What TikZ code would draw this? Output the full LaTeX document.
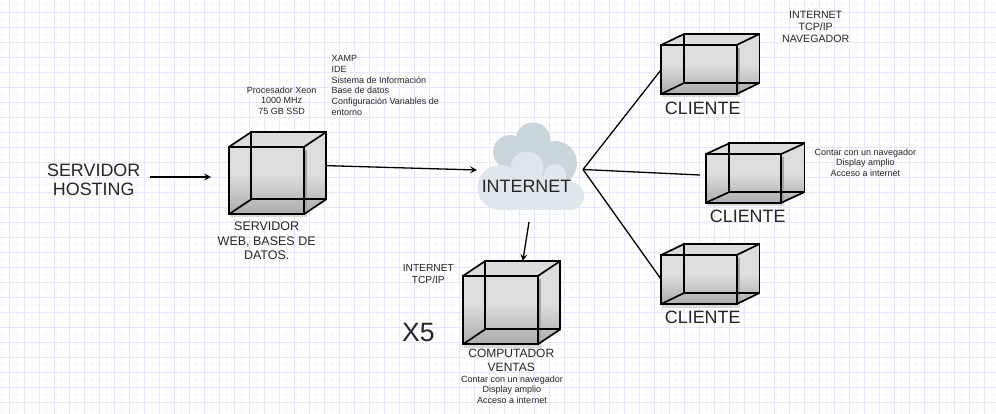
\documentclass[tikz,border=0pt]{standalone}
\usepackage{fontspec}
\setmainfont{Liberation Sans}
\usetikzlibrary{arrows.meta}
\definecolor{gridmajor}{HTML}{E6E6FF}
\definecolor{gridminor}{HTML}{F7F7FF}
\definecolor{cloudback}{HTML}{CAD6DC}
\definecolor{cloudfront}{HTML}{DFE6EC}
\definecolor{inktext}{HTML}{262626}
\definecolor{cubetop}{HTML}{DCDCDC}
\definecolor{cubemid}{HTML}{DEDEDE}
\definecolor{cubebot}{HTML}{ACACAC}
\definecolor{shadowlight}{HTML}{DADADA}
\definecolor{shadowdark}{HTML}{A4A4A4}
\tikzset{
  cubeline/.style={draw=black,line width=1.7pt,line join=miter},
  cubeface/.style={cubeline,rectangle,inner sep=0pt,outer sep=0pt,anchor=north west},
  conn/.style={draw=black,line width=1.3pt},
  arrowconn/.style={conn,-{Stealth[length=7pt,width=7pt,inset=3pt]}},
  smalltext/.style={text=inktext,align=center,inner sep=0pt,font=\fontsize{9}{10.7}\selectfont},
  toptext/.style={text=inktext,align=center,inner sep=0pt,font=\fontsize{10.6}{11.9}\selectfont},
  midtext/.style={text=inktext,align=center,inner sep=0pt,font=\fontsize{12.5}{14.5}\selectfont},
  bigtext/.style={text=inktext,align=center,inner sep=0pt,font=\fontsize{17.9}{19}\selectfont},
}
% #1 name, #2 #3 front top-left, #4 #5 front size, #6 #7 depth
\newcommand{\drawboxcube}[7]{
  \fill[shadowlight] (#2+1,#3+#5) rectangle (#2+#4+3,#3+#5+3.5);
  \shade[top color=cubetop,bottom color=cubebot,middle color=cubemid]
    (#2,#3) -- (#2+#6,#3-#7) -- (#2+#6+#4,#3-#7) -- (#2+#6+#4,#3-#7+#5)
    -- (#2+#4,#3+#5) -- (#2,#3+#5) -- cycle;
  \fill[shadowdark] (#2+#4,#3+3) rectangle (#2+#4+3,#3+#5);
  \node[cubeface,minimum width=#4pt,minimum height=#5pt] (#1back) at (#2+#6,#3-#7) {};
  \draw[cubeline] (#2,#3) -- (#2+#6,#3-#7) (#2+#4,#3) -- (#2+#4+#6,#3-#7)
    (#2,#3+#5) -- (#2+#6,#3+#5-#7) (#2+#4,#3+#5) -- (#2+#4+#6,#3+#5-#7);
  \node[cubeface,minimum width=#4pt,minimum height=#5pt] (#1) at (#2,#3) {};
}
\begin{document}
\begin{tikzpicture}[x=1pt,y=-1pt]
\useasboundingbox (0,0) rectangle (996,414);
\fill[white] (0,0) rectangle (996,414);
% grid
\foreach \k in {0,...,66} {\draw[gridminor,line width=1pt] ({1.8+15*\k},0) -- ({1.8+15*\k},414);}
\foreach \k in {0,...,28} {\draw[gridminor,line width=1pt] (0,{4.8+15*\k}) -- (996,{4.8+15*\k});}
\foreach \k in {0,...,66} {\draw[gridmajor,line width=1pt] ({9.3+15*\k},0) -- ({9.3+15*\k},414);}
\foreach \k in {0,...,27} {\draw[gridmajor,line width=1pt] (0,{12.3+15*\k}) -- (996,{12.3+15*\k});}
% cloud
\fill[cloudback] (533,140) circle (17.5);
\fill[cloudback] (510,152) circle (17);
\fill[cloudback] (555,163) circle (22);
\fill[cloudback] (510,150) rectangle (560,185);
\fill[cloudfront] (527,168) circle (16.5);
\fill[cloudfront] (555,175) circle (11);
\fill[cloudfront] (500,187.5) circle (22.5);
\fill[cloudfront] (570,196) circle (14);
\fill[cloudfront] (500,176) rectangle (566,210);
\fill[cloudfront] (566,182) rectangle (570,210);
\node[bigtext] (cloud) at (526.5,186.5) {INTERNET};
% cubes
\drawboxcube{server}{229.3}{146.7}{75}{67.3}{22}{14.7}
\drawboxcube{comp}{463.3}{275.7}{75}{68.3}{22}{14.7}
\drawboxcube{clientA}{661.3}{45}{75.4}{49}{22.7}{11}
\drawboxcube{clientB}{706}{154}{75.3}{48.7}{23.3}{10.7}
\drawboxcube{clientC}{661.3}{255}{75.4}{49}{22.7}{11}
% texts
\node[bigtext] (hosting) at (93.7,179.5) {SERVIDOR\\HOSTING};
\node[midtext] (serverlabel) at (266.7,241) {SERVIDOR\\WEB, BASES DE\\DATOS.};
\node[smalltext] (procesador) at (281.7,100.5) {Procesador Xeon\\1000 MHz\\75 GB SSD};
\node[smalltext,align=left,anchor=west] (xamp) at (331.3,85.5) {XAMP\\IDE\\Sistema de Información\\Base de datos\\Configuración Variables de\\entorno};
\node[toptext,font=\fontsize{10.2}{11.4}\selectfont] (tcpA) at (428.3,274) {INTERNET\\TCP/IP};
\node[bigtext,font=\fontsize{26.5}{28}\selectfont] (xfive) at (418.3,332.5) {X5};
\node[midtext,font=\fontsize{12}{14.5}\selectfont] (complabel) at (511.3,360.5) {COMPUTADOR\\VENTAS};
\node[smalltext] (compnote) at (512,389.5) {Contar con un navegador\\Display amplio\\Acceso a internet};
\node[bigtext] (labelA) at (702.7,108) {CLIENTE};
\node[bigtext] (labelB) at (747.7,216.7) {CLIENTE};
\node[bigtext] (labelC) at (702.7,317.7) {CLIENTE};
\node[toptext] (topnote) at (815.7,27) {INTERNET\\TCP/IP\\NAVEGADOR};
\node[smalltext] (clientnote) at (865.3,162.5) {Contar con un navegador\\Display amplio\\Acceso a internet};
% connectors
\coordinate (hub) at (583,169.5);
\coordinate (hostingtip) at (211,177);
\coordinate (hostingstart) at (150,177);
\coordinate (cloudin) at (477,170);
\coordinate (cloudout) at (529,222);
\coordinate (clientBend) at (700,175);
\draw[arrowconn] (hostingstart) -- (hostingtip);
\draw[arrowconn] (serverback.east) -- (cloudin);
\draw[arrowconn] (cloudout) -- (compback.north);
\draw[conn] (hub) -- (clientA.west);
\draw[conn] (hub) -- (clientBend);
\draw[conn] (hub) -- (clientC.west);
\end{tikzpicture}
\end{document}
